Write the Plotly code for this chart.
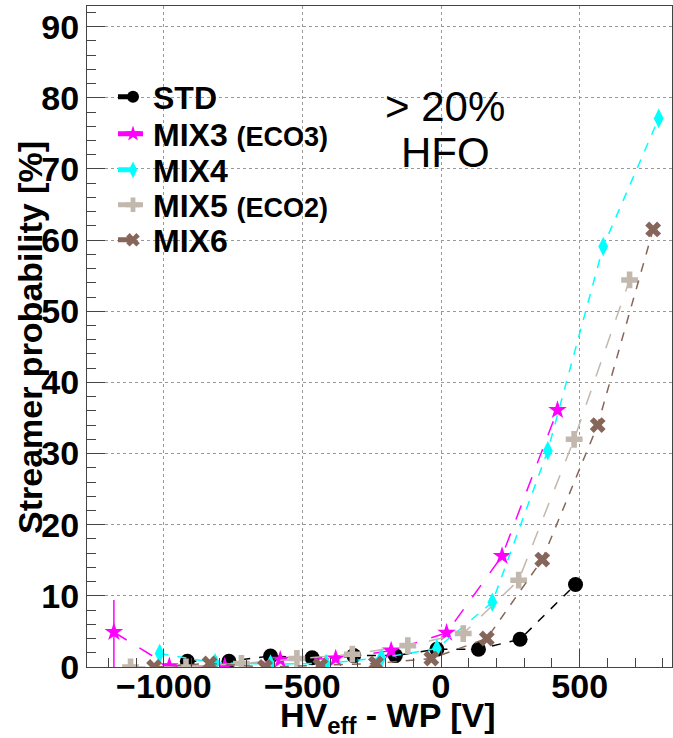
import plotly.graph_objects as go

# ---- data ----
std_x = [-915, -765, -615, -465, -315, -165, -15, 135, 285, 485]
std_y = [0.8, 0.8, 1.55, 1.3, 1.6, 1.6, 2.5, 2.5, 3.9, 11.6]

mix3_x = [-1180, -980, -780, -580, -380, -180, 20, 220, 420]
mix3_y = [4.9, 0.1, 0.1, 1.0, 1.2, 2.3, 4.8, 15.6, 36.1]
mix3_err_up = [4.5, 0, 0, 0, 0, 0, 0, 0, 0]
mix3_err_dn = [4.9, 0, 0, 0, 0, 0, 0, 0, 0]

mix4_x = [-1015, -815, -615, -415, -215, -15, 185, 385, 585, 785]
mix4_y = [1.9, 0.6, 0.4, 0.5, 1.3, 2.6, 9.1, 30.4, 59.1, 77.1]
mix4_err = [1.2, 0, 0, 0, 0, 0, 0, 0, 0, 0]

mix5_x = [-1120, -920, -720, -520, -320, -120, 80, 280, 480, 680]
mix5_y = [0.0, 0.0, 0.5, 1.2, 1.8, 3.0, 4.7, 12.2, 32.0, 54.4]

mix6_x = [-1035, -835, -635, -435, -235, -35, 165, 365, 565, 765]
mix6_y = [0.0, 0.5, 0.0, 0.2, 0.5, 1.2, 4.0, 15.1, 34.0, 61.5]

names = ["STD", "MIX3 <span style='font-size:27px'>(ECO3)</span>", "MIX4",
         "MIX5 <span style='font-size:27px'>(ECO2)</span>", "MIX6"]

W, H = 673, 738
L, R, T, B = 87, 1, 6, 71
pw, ph = W - L - R, H - T - B


def px(x):
    return (x - L) / pw


def py(y):
    return (H - B - y) / ph


legend_ids = ["legend", "legend2", "legend3", "legend4", "legend5"]
legend_rows = [97, 134, 170, 205, 240]

fig = go.Figure()

fig.add_trace(go.Scatter(x=std_x, y=std_y, name=names[0], mode="lines+markers", legend=legend_ids[0],
                         line=dict(color="black", width=1.5, dash="dash"),
                         marker=dict(symbol="circle", size=15, color="black")))
fig.add_trace(go.Scatter(x=mix3_x, y=mix3_y, name=names[1], mode="lines+markers", legend=legend_ids[1],
                         line=dict(color="#FF00FF", width=1.5, dash="longdash"),
                         marker=dict(symbol="star", size=14, color="#FF00FF"),
                         error_y=dict(type="data", array=mix3_err_up, arrayminus=mix3_err_dn,
                                      color="#FF00FF", thickness=1.5, width=0)))
fig.add_trace(go.Scatter(x=mix4_x, y=mix4_y, name=names[2], mode="lines+markers", legend=legend_ids[2],
                         line=dict(color="#00FFFF", width=1.5, dash="dash"),
                         marker=dict(symbol="diamond-tall", size=14, color="#00FFFF"),
                         error_y=dict(type="data", array=mix4_err,
                                      color="#00FFFF", thickness=1.5, width=0)))
fig.add_trace(go.Scatter(x=mix5_x, y=mix5_y, name=names[3], mode="lines+markers", legend=legend_ids[3],
                         line=dict(color="#C2B8AD", width=1.5, dash="longdash"),
                         marker=dict(symbol="cross", size=14, color="#C2B8AD")))
fig.add_trace(go.Scatter(x=mix6_x, y=mix6_y, name=names[4], mode="lines+markers", legend=legend_ids[4],
                         line=dict(color="#86665A", width=1.5, dash="dash"),
                         marker=dict(symbol="x", size=14, color="#86665A")))

axis_font = dict(family="Liberation Sans", size=34, color="black", weight="bold")

layout_legends = {}
for lid, row in zip(legend_ids, legend_rows):
    layout_legends[lid] = dict(x=px(113), y=py(row), xanchor="left", yanchor="middle",
                               bgcolor="rgba(0,0,0,0)", borderwidth=0,
                               font=dict(family="Liberation Sans", size=32, color="black",
                                         weight="bold"),
                               itemsizing="constant")

fig.update_layout(
    width=W, height=H,
    margin=dict(l=L, r=R, t=T, b=B, autoexpand=False),
    paper_bgcolor="white", plot_bgcolor="white",
    font=dict(family="Liberation Sans", color="black"),
    showlegend=True,
    xaxis=dict(range=[-1277, 833], tick0=0, dtick=500, ticks="inside", ticklen=18,
               tickcolor="#444", tickwidth=1, showgrid=True, gridcolor="#999",
               griddash="dot", gridwidth=1, showline=True, linecolor="#444",
               linewidth=1, mirror=True, zeroline=False, tickfont=axis_font,
               automargin=False, ticklabelstandoff=-11,
               minor=dict(dtick=100, ticks="inside", ticklen=9, tickcolor="#444",
                          showgrid=False)),
    yaxis=dict(range=[0, 92.9], tick0=0, dtick=10, ticks="inside", ticklen=18,
               tickcolor="#444", tickwidth=1, showgrid=True, gridcolor="#999",
               griddash="dot", gridwidth=1, showline=True, linecolor="#444",
               linewidth=1, mirror=True, zeroline=False, tickfont=axis_font,
               automargin=False,
               minor=dict(dtick=2, ticks="inside", ticklen=9, tickcolor="#444",
                          showgrid=False)),
    **layout_legends,
)

fig.add_annotation(xref="paper", yref="paper", x=px(388), y=py(717),
                   text="HV<sub>eff</sub> - WP [V]", showarrow=False,
                   font=dict(family="Liberation Sans", size=34, color="black", weight="bold"),
                   xanchor="center", yanchor="middle")
fig.add_annotation(xref="paper", yref="paper", x=-(L - 30) / pw, y=py(338),
                   text="Streamer probability [%]", showarrow=False, textangle=-90,
                   font=dict(family="Liberation Sans", size=34, color="black", weight="bold"),
                   xanchor="center", yanchor="middle")
fig.add_annotation(xref="paper", yref="paper", x=px(445), y=py(106),
                   text="&gt; 20%", showarrow=False,
                   font=dict(family="Liberation Sans", size=42, color="black"),
                   xanchor="center", yanchor="middle")
fig.add_annotation(xref="paper", yref="paper", x=px(445), y=py(152),
                   text="HFO", showarrow=False,
                   font=dict(family="Liberation Sans", size=42, color="black"),
                   xanchor="center", yanchor="middle")

fig.write_html("out.html", config={"displayModeBar": False},
               post_script="document.body.style.margin='0px';document.body.style.overflow='hidden';")
